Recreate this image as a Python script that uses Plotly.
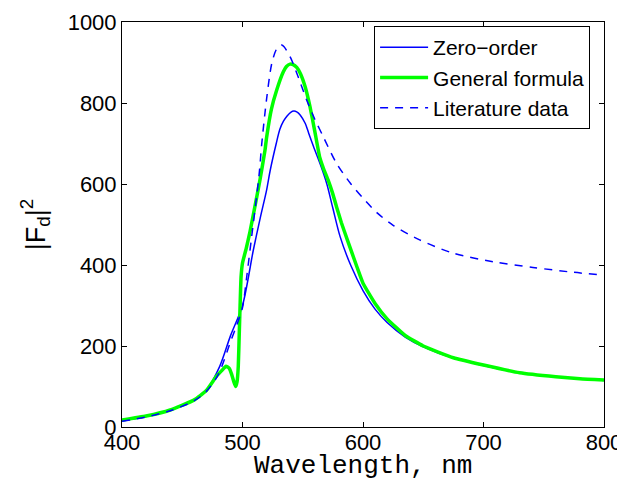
import plotly.graph_objects as go

# Zero-order
wl_zero = [400, 420, 440, 460, 470, 481, 490, 500, 509, 515, 520, 523, 528, 531, 534, 537, 540, 542.7, 545, 548, 552, 555, 559, 565, 570, 575, 581, 590, 600, 610, 620, 635, 650, 675, 700, 730, 760, 780, 800]
fd_zero = [15, 26, 42, 68, 91, 149, 225, 300, 437, 520, 585, 634, 700, 735, 755, 768, 777, 780, 778, 770, 750, 725, 692, 645, 600, 540, 470, 398, 337, 291, 258, 222, 198, 170, 152, 134, 124, 119, 115]

# General formula
wl_gen = [400, 420, 440, 460, 470, 478.6, 483, 486.3, 489, 491, 493, 494.3, 495.5, 496.5, 497.3, 498, 498.8, 500, 503, 506, 510, 514.5, 518.7, 520, 524, 528.4, 533.9, 536.5, 539.5, 542, 545, 548, 552, 556, 560, 564, 567, 571, 575, 578, 582, 587, 595, 600, 610, 620, 635, 650, 675, 700, 730, 760, 780, 800]
fd_gen = [17, 27, 42, 67, 90, 126, 140, 150, 145, 130, 110, 100, 112, 150, 230, 300, 370, 405, 440, 479, 540, 610, 684, 715, 785, 832, 877, 890, 896, 895, 888, 873, 840, 791, 730, 667, 640, 610, 575, 544, 505, 462, 395, 355, 305, 267, 226, 200, 171, 153, 134, 124, 119, 116]

# Literature data
wl_lit = [400, 420, 440, 460, 470, 480, 490, 495, 500, 503.5, 507.6, 511.7, 514, 516, 520, 524.3, 528, 530.5, 532.5, 534.5, 536.5, 540.8, 547, 553.3, 560, 567, 578, 590, 600, 612, 625, 647, 675, 708, 741, 774.5, 800]
fd_lit = [14, 25, 40, 65, 88, 130, 210, 250, 295, 371, 470, 569, 630, 700, 810, 898, 932, 941, 943, 939, 930, 906, 858, 807, 760, 717, 651, 600, 565, 528, 498, 462, 429, 408, 394, 382, 375]

x_ticks = [400, 500, 600, 700, 800]
y_ticks = [0, 200, 400, 600, 800, 1000]

fig = go.Figure()
fig.add_trace(go.Scatter(x=wl_zero, y=fd_zero, mode="lines", name="Zero\u2212order",
                         line=dict(color="#0000ff", width=1.5, shape="spline", smoothing=0.8)))
fig.add_trace(go.Scatter(x=wl_gen, y=fd_gen, mode="lines", name="General formula",
                         line=dict(color="#00ff00", width=3.5, shape="spline", smoothing=0.4)))
fig.add_trace(go.Scatter(x=wl_lit, y=fd_lit, mode="lines", name="Literature data",
                         line=dict(color="#0000ff", width=1.5, dash="8px,7px", shape="spline", smoothing=0.8)))

axis_common = dict(showline=True, linecolor="black", linewidth=1, mirror="ticks",
                   ticks="inside", ticklen=5, tickcolor="black", showgrid=False,
                   zeroline=False, automargin=False,
                   tickfont=dict(family="Liberation Sans", size=22, color="black"))

# The page body adds an 8px margin, so the figure is sized to fit the 625x479 window.
fig.update_layout(
    width=617, height=471,
    margin=dict(l=114, r=21, t=14, b=52),
    paper_bgcolor="white", plot_bgcolor="white",
    xaxis=dict(range=[400, 800], tickvals=x_ticks, ticktext=[str(v) for v in x_ticks],
               ticklabelstandoff=-4, **axis_common),
    yaxis=dict(range=[0, 1000], tickvals=y_ticks, ticktext=[str(v) for v in y_ticks],
               title=dict(text="|F<sub>d</sub>|<sup>2</sup>", font=dict(family="Liberation Sans", size=27, color="black"), standoff=14),
               **axis_common),
    legend=dict(x=0.523, y=0.99, xanchor="left", yanchor="top", bgcolor="white",
                bordercolor="black", borderwidth=1, itemwidth=48,
                font=dict(family="Liberation Sans", size=21, color="black")),
    annotations=[dict(text="Wavelength, nm", xref="paper", yref="paper", x=0.5, y=-0.097,
                      xanchor="center", yanchor="middle", showarrow=False,
                      font=dict(family="Liberation Mono", size=26, color="black"))],
    showlegend=True,
)

fig.write_html("out.html")
